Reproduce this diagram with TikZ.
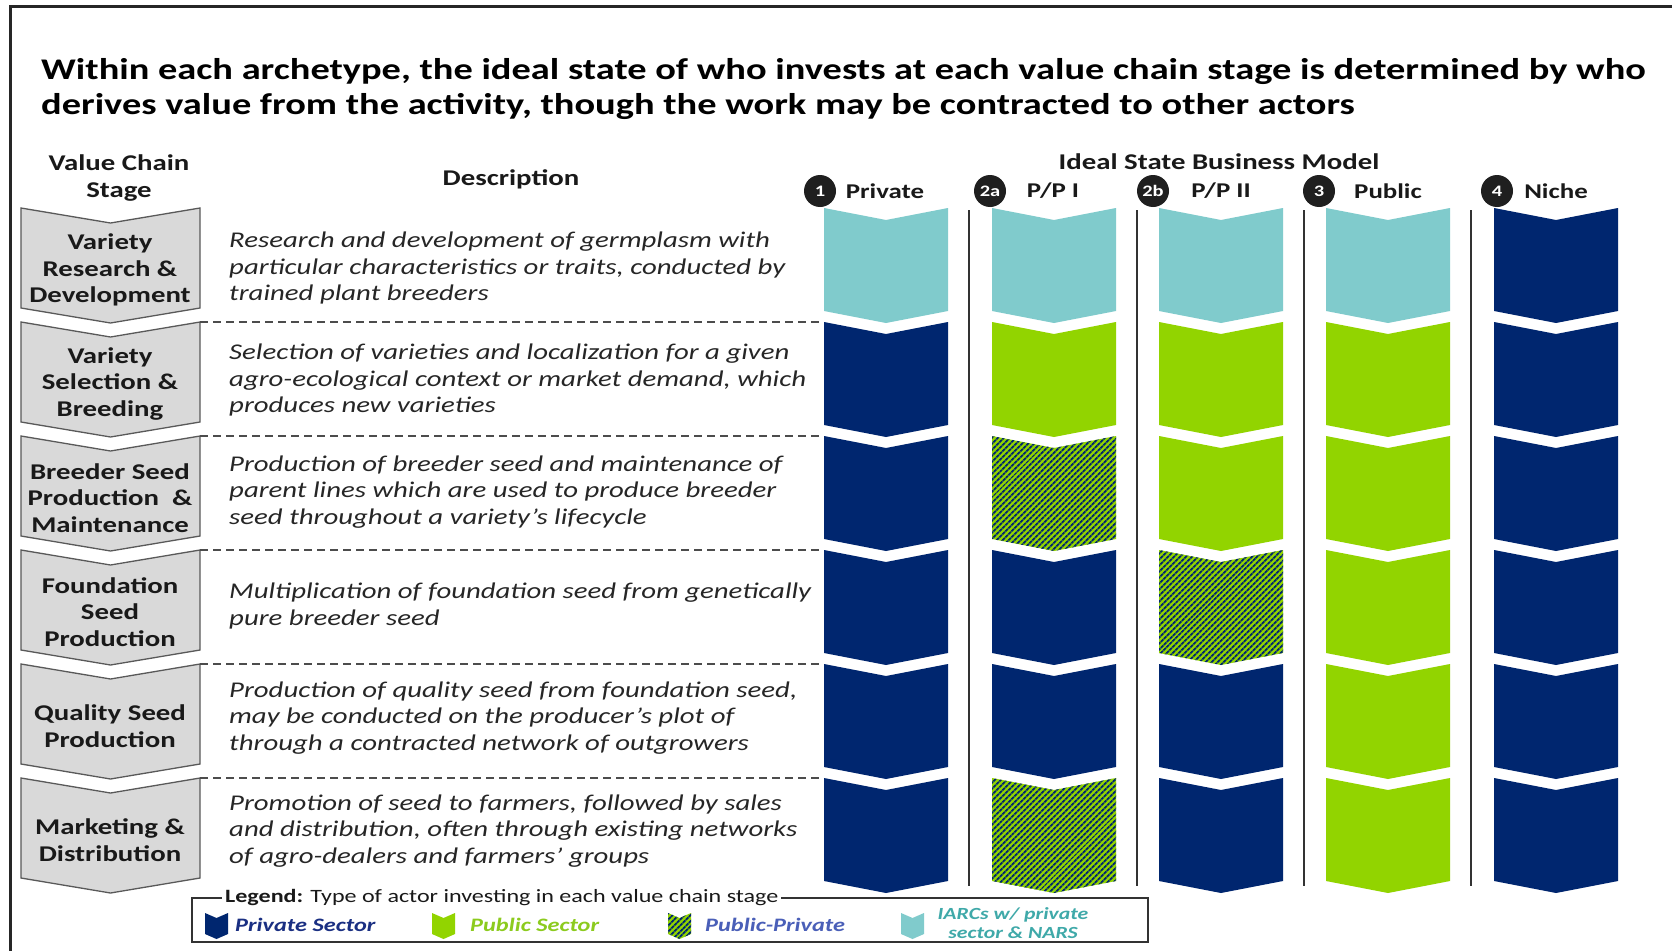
\documentclass[tikz,border=0pt]{standalone}
\usepackage{fontspec}
\setmainfont{Carlito}[FakeStretch=1.28]
\usetikzlibrary{patterns.meta}
\definecolor{navy}{HTML}{00266F}
\definecolor{pgreen}{HTML}{92D400}
\definecolor{tealc}{HTML}{80CBCC}
\definecolor{chgray}{HTML}{D9D9D9}
\definecolor{ppblue}{HTML}{4A5FB8}
\definecolor{privtext}{HTML}{1A2F82}
\definecolor{pubtext}{HTML}{8CCB1E}
\definecolor{iarctext}{HTML}{3FA9A9}
\newcommand{\chev}[6]{\path[#6] (#1,#2) -- ({#1+#3/2},{#2+#5}) -- ({#1+#3},#2) -- ({#1+#3},{#2+#4}) -- ({#1+#3/2},{#2+#4+#5}) -- (#1,{#2+#4}) -- cycle;}
\newcommand{\valcol}[7]{%
  \chev{#1}{208}{124}{103}{12}{#2}
  \chev{#1}{322}{124}{103}{12}{#3}
  \chev{#1}{436}{124}{103}{12}{#4}
  \chev{#1}{550}{124}{103}{12}{#5}
  \chev{#1}{664}{124}{103}{12}{#6}
  \chev{#1}{778}{124}{103}{12}{#7}}
\begin{document}
\begin{tikzpicture}[x=1pt,y=-1pt,
  stagebox/.style={fill=chgray,draw=black!65,line width=1.3pt},
  priv/.style={fill=navy}, pub/.style={fill=pgreen}, iarc/.style={fill=tealc},
  pp/.style={preaction={fill=pgreen},pattern={Lines[angle=45,distance=4pt,line width=2pt]},pattern color=navy},
  stagetxt/.style={align=center,font=\fontsize{22.5}{26.6}\selectfont\bfseries,text=black!90},
  desc/.style={anchor=west,align=left,font=\fontsize{22.5}{26.5}\selectfont\itshape,text=black!85,inner sep=0pt},
  hdr/.style={font=\fontsize{22.5}{27}\selectfont\bfseries,align=center,text=black!90},
  collab/.style={font=\fontsize{21}{27}\selectfont\bfseries,text=black!90},
  badge/.style={circle,fill=black!88,text=white,font=\fontsize{16}{16}\selectfont\bfseries,minimum size=32pt,inner sep=0pt},
  sepline/.style={draw=black!80,line width=1.5pt},
  dashline/.style={draw=black!70,line width=1.2pt,dash pattern=on 8pt off 5pt},
  lgtxt/.style={anchor=west,font=\fontsize{19}{22}\selectfont\bfseries\itshape,inner sep=0pt}
]
\useasboundingbox (0,0) rectangle (1672,950);
\fill[white] (0,0) rectangle (1672,950);
% frame
\draw[line width=3pt,black!85] (10,960) -- (10,7) -- (1690,7);
% title
\node[anchor=west,inner sep=0pt,font=\fontsize{30}{36}\selectfont\bfseries] (title1) at (41,72) {Within each archetype, the ideal state of who invests at each value chain stage is determined by who};
\node[anchor=west,inner sep=0pt,font=\fontsize{30}{36}\selectfont\bfseries] (title2) at (41,106) {derives value from the activity, though the work may be contracted to other actors};
% headers
\node[hdr] (hstage) at (119,178) {Value Chain\\Stage};
\node[hdr] (hdesc) at (511,179) {Description};
\node[hdr] (hideal) at (1219,162) {Ideal State Business Model};
\node[collab] (lab1) at (885,191) {Private};
\node[collab] (lab2) at (1053,191) {P/P I};
\node[collab] (lab3) at (1221,191) {P/P II};
\node[collab] (lab4) at (1388,191) {Public};
\node[collab] (lab5) at (1556,191) {Niche};
\node[badge] (b1) at (820,191) {1};
\node[badge] (b2) at (990,191) {2a};
\node[badge] (b3) at (1153,191) {2b};
\node[badge] (b4) at (1319,191) {3};
\node[badge] (b5) at (1497,191) {4};
% left chevrons
\chev{21}{208}{179}{100}{15}{stagebox}
\chev{21}{322}{179}{100}{15}{stagebox}
\chev{21}{436}{179}{100}{15}{stagebox}
\chev{21}{550}{179}{100}{15}{stagebox}
\chev{21}{664}{179}{100}{15}{stagebox}
\chev{21}{778}{179}{100}{15}{stagebox}
\node[stagetxt] (s1) at (110,270) {Variety\\Research \&\\Development};
\node[stagetxt] (s2) at (110,384) {Variety\\Selection \&\\Breeding};
\node[stagetxt] (s3) at (110,498) {Breeder Seed\\Production~ \&\\Maintenance};
\node[stagetxt] (s4) at (110,612) {Foundation\\Seed\\Production};
\node[stagetxt] (s5) at (110,726) {Quality Seed\\Production};
\node[stagetxt] (s6) at (110,840) {Marketing \&\\Distribution};
% dashed separators
\foreach \yy in {322,436,550,664,778} \draw[dashline] (200,\yy) -- (820,\yy);
% descriptions
\node[desc] (d1) at (229,268) {Research and development of germplasm with\\particular characteristics or traits, conducted by\\trained plant breeders};
\node[desc] (d2) at (229,380) {Selection of varieties and localization for a given\\agro-ecological context or market demand, which\\produces new varieties};
\node[desc] (d3) at (229,492) {Production of breeder seed and maintenance of\\parent lines which are used to produce breeder\\seed throughout a variety’s lifecycle};
\node[desc] (d4) at (229,606) {Multiplication of foundation seed from genetically\\pure breeder seed};
\node[desc] (d5) at (229,718) {Production of quality seed from foundation seed,\\may be conducted on the producer’s plot of\\through a contracted network of outgrowers};
\node[desc] (d6) at (229,831) {Promotion of seed to farmers, followed by sales\\and distribution, often through existing networks\\of agro-dealers and farmers’ groups};
% columns
\valcol{824}{iarc}{priv}{priv}{priv}{priv}{priv}
\valcol{992}{iarc}{pub}{pp}{priv}{priv}{pp}
\valcol{1159}{iarc}{pub}{pub}{pp}{priv}{priv}
\valcol{1326}{iarc}{pub}{pub}{pub}{pub}{pub}
\valcol{1494}{priv}{priv}{priv}{priv}{priv}{priv}
\foreach \xx in {969,1137,1304,1471} \draw[sepline] (\xx,210) -- (\xx,886);
% legend
\draw[line width=1.8pt,black!80] (192,898) rectangle (1148,942);
\node[anchor=west,fill=white,inner sep=3pt,font=\fontsize{18.8}{22}\selectfont,text=black!90] (lgtitle) at (222,898) {\textbf{Legend:} Type of actor investing in each value chain stage};
\chev{205}{913}{23}{21}{5}{priv}
\node[lgtxt,text=privtext] (lg1) at (235,925) {Private Sector};
\chev{432}{913}{23}{21}{5}{pub}
\node[lgtxt,text=pubtext] (lg2) at (470,925) {Public Sector};
\chev{668}{913}{23}{21}{5}{pp}
\node[lgtxt,text=ppblue] (lg3) at (705,925) {Public-Private};
\chev{901}{913}{23}{21}{5}{iarc}
\node[align=center,font=\fontsize{17}{18.5}\selectfont\bfseries\itshape,text=iarctext,inner sep=0pt] (lg4) at (1013,923) {IARCs w/ private\\sector \& NARS};
\end{tikzpicture}
\end{document}
